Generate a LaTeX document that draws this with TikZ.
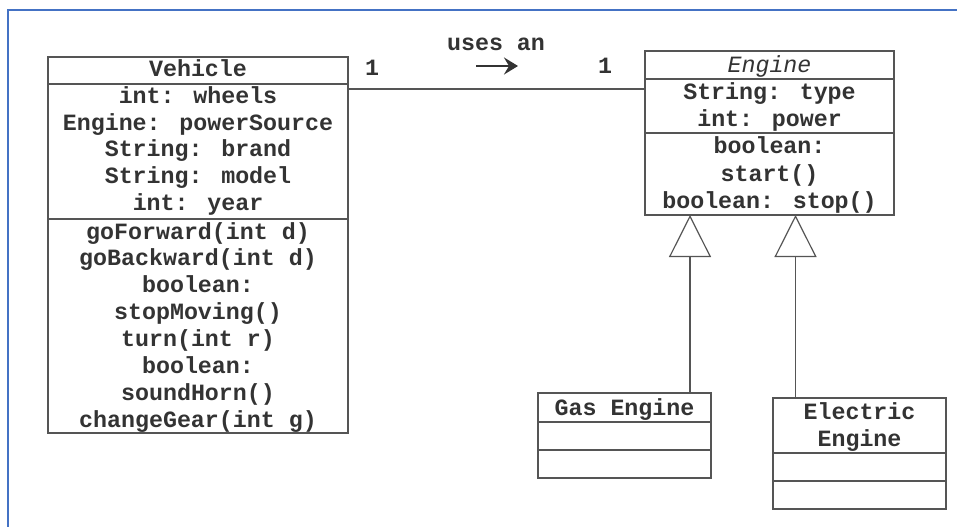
\documentclass[tikz,border=0pt]{standalone}
\usepackage{fontspec}
\usetikzlibrary{arrows.meta}
\newfontfamily\courfam{Liberation Mono}
\definecolor{frameblue}{HTML}{4472C4}
\definecolor{inkline}{HTML}{555555}
\definecolor{inktext}{HTML}{333333}
\tikzset{
  cls/.style={draw=inkline, line width=1.2pt, rectangle, inner sep=0pt, outer sep=0pt, anchor=north west},
  divider/.style={draw=inkline, line width=1.2pt},
  txt/.style={text=inktext, font=\courfam\bfseries\fontsize{23.3}{26.7}\selectfont, anchor=base, inner sep=0pt},
  ttl/.style={text=inktext, font=\courfam\itshape\fontsize{23.3}{26.7}\selectfont, anchor=base, inner sep=0pt},
  assoc/.style={draw=inkline, line width=1.2pt},
  gen/.style={draw=inkline, line width=1.2pt, -{Triangle[open, length=42pt, width=42pt]}},
  dirarrow/.style={draw=inktext, line width=2.6pt, -{Stealth[length=14pt, width=17pt, inset=5pt]}},
}
\begin{document}
\begin{tikzpicture}[x=1pt, y=-1pt]
\useasboundingbox (0,0) rectangle (957,527);
\fill[white] (0,0) rectangle (957,527);
\draw[frameblue, line width=2.5pt] (957,10) -- (8,10) -- (8,527);

% Vehicle
\node[cls, minimum width=300pt, minimum height=376pt] (vehicle) at (48,57) {};
\draw[divider] ([yshift=-27pt]vehicle.north west) -- ([yshift=-27pt]vehicle.north east);
\draw[divider] ([yshift=-162pt]vehicle.north west) -- ([yshift=-162pt]vehicle.north east);
\node[txt] (vname) at (198,76) {Vehicle};
\node[txt] (va1) at (198,103.5) {int: wheels};
\node[txt] (va2) at (198,130.2) {Engine: powerSource};
\node[txt] (va3) at (198,156.9) {String: brand};
\node[txt] (va4) at (198,183.6) {String: model};
\node[txt] (va5) at (198,210.3) {int: year};
\node[txt] (vm1) at (198,239) {goForward(int d)};
\node[txt] (vm2) at (198,265.5) {goBackward(int d)};
\node[txt] (vm3) at (198,292.5) {boolean:};
\node[txt] (vm4) at (198,319) {stopMoving()};
\node[txt] (vm5) at (198,346) {turn(int r)};
\node[txt] (vm6) at (198,373) {boolean:};
\node[txt] (vm7) at (198,400) {soundHorn()};
\node[txt] (vm8) at (198,427) {changeGear(int g)};

% Engine
\node[cls, minimum width=249pt, minimum height=164pt] (engine) at (645,51) {};
\draw[divider] ([yshift=-28pt]engine.north west) -- ([yshift=-28pt]engine.north east);
\draw[divider] ([yshift=-82pt]engine.north west) -- ([yshift=-82pt]engine.north east);
\node[ttl] (ename) at (769.5,72) {Engine};
\node[txt] (ea1) at (769.5,99) {String: type};
\node[txt] (ea2) at (769.5,126) {int: power};
\node[txt] (em1) at (769.5,153) {boolean:};
\node[txt] (em2) at (769.5,181) {start()};
\node[txt] (em3) at (769.5,208) {boolean: stop()};

% Gas Engine
\node[cls, minimum width=173pt, minimum height=85pt] (gas) at (538,393) {};
\draw[divider] ([yshift=-29pt]gas.north west) -- ([yshift=-29pt]gas.north east);
\draw[divider] ([yshift=-57pt]gas.north west) -- ([yshift=-57pt]gas.north east);
\node[txt] (gname) at (624.5,415) {Gas Engine};

% Electric Engine
\node[cls, minimum width=173pt, minimum height=111pt] (elec) at (773,398) {};
\draw[divider] ([yshift=-55pt]elec.north west) -- ([yshift=-55pt]elec.north east);
\draw[divider] ([yshift=-83pt]elec.north west) -- ([yshift=-83pt]elec.north east);
\node[txt] (elname1) at (859.5,419) {Electric};
\node[txt] (elname2) at (859.5,446) {Engine};

% association
\draw[assoc] ([yshift=-32pt]vehicle.north east) -- ([yshift=-32pt]vehicle.north east -| engine.west);
\node[txt] (m1) at (372,75) {1};
\node[txt] (m2) at (605,74) {1};
\node[txt] (uses) at (496,50) {uses an};
\coordinate (ua) at (476,66);
\coordinate (ub) at (518,66);
\draw[dirarrow] (ua) -- (ub);

% generalisation
\coordinate (apex1) at (690,215);
\coordinate (apex2) at (795.5,215);
\draw[gen] (gas.north -| apex1) -- (apex1);
\draw[gen] (elec.north -| apex2) -- (apex2);
\end{tikzpicture}
\end{document}
